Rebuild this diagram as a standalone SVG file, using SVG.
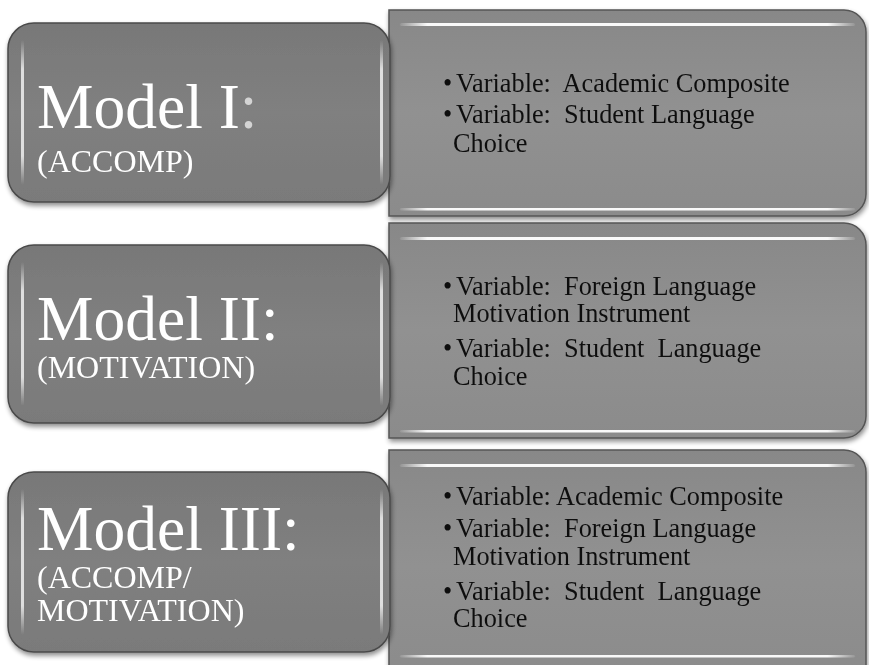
<svg xmlns="http://www.w3.org/2000/svg" width="869" height="665" viewBox="0 0 869 665">
<defs>
  <filter id="sh" x="-5%" y="-5%" width="112%" height="115%">
    <feGaussianBlur in="SourceAlpha" stdDeviation="2.5"/>
    <feOffset dx="1" dy="3" result="b"/>
    <feComponentTransfer><feFuncA type="linear" slope="0.45"/></feComponentTransfer>
    <feMerge><feMergeNode/><feMergeNode in="SourceGraphic"/></feMerge>
  </filter>
  <linearGradient id="vHi" x1="0" y1="0" x2="0" y2="1">
    <stop offset="0" stop-color="#ffffff" stop-opacity="0"/>
    <stop offset="0.2" stop-color="#ffffff" stop-opacity="0.75"/>
    <stop offset="0.8" stop-color="#ffffff" stop-opacity="0.75"/>
    <stop offset="1" stop-color="#ffffff" stop-opacity="0"/>
  </linearGradient>
  <linearGradient id="hiR" x1="0" y1="0" x2="1" y2="0">
    <stop offset="0" stop-color="#ffffff" stop-opacity="0.1"/>
    <stop offset="0.06" stop-color="#ffffff" stop-opacity="0.95"/>
    <stop offset="0.94" stop-color="#ffffff" stop-opacity="0.95"/>
    <stop offset="1" stop-color="#ffffff" stop-opacity="0.1"/>
  </linearGradient>
  <linearGradient id="fillL" x1="0" y1="0" x2="0" y2="1">
    <stop offset="0" stop-color="#787878"/>
    <stop offset="0.5" stop-color="#808080"/>
    <stop offset="1" stop-color="#7a7a7a"/>
  </linearGradient>
  <linearGradient id="fillR" x1="0" y1="0" x2="0" y2="1">
    <stop offset="0" stop-color="#888888"/>
    <stop offset="0.5" stop-color="#919191"/>
    <stop offset="1" stop-color="#8b8b8b"/>
  </linearGradient>
</defs>
<style>
  .lbox { fill: url(#fillL); stroke: #4a4a4a; stroke-width: 1.5; }
  .lbev { fill: url(#vHi); }
  .rbox { fill: url(#fillR); stroke: #555555; stroke-width: 1.5; }
  .rhi { fill: url(#hiR); }
  .title { font-family: 'Liberation Serif', 'Times New Roman', 'DejaVu Serif', serif; font-size: 63.5px; fill: #ffffff; }
  .colon { fill: #d4d4d4; }
  .sub { font-family: 'Liberation Serif', 'Times New Roman', 'DejaVu Serif', serif; font-size: 32px; fill: #ffffff; }
  .item { font-family: 'Liberation Serif', 'Times New Roman', 'DejaVu Serif', serif; font-size: 26.3px; fill: #111111; }
</style>
<rect width="869" height="665" fill="#ffffff"/>

<g id="detail1" filter="url(#sh)">
  <path class="rbox" d="M389,10 H844 A22,22 0 0 1 866,32 V194 A22,22 0 0 1 844,216 H389 Z"/>
  <rect class="rhi" x="400" y="23" width="455" height="3" rx="1.5"/>
  <rect class="rhi" x="400" y="208" width="455" height="2.5" rx="1.2"/>
  <text class="item" xml:space="preserve"><tspan x="443" y="92">•</tspan><tspan x="456" y="92">Variable:  Academic Composite</tspan><tspan x="443" y="123">•</tspan><tspan x="456" y="123">Variable:  Student Language</tspan><tspan x="453" y="152">Choice</tspan></text>
</g>

<g id="detail2" filter="url(#sh)">
  <path class="rbox" d="M389,223 H844 A22,22 0 0 1 866,245 V416 A22,22 0 0 1 844,438 H389 Z"/>
  <rect class="rhi" x="400" y="237" width="455" height="3" rx="1.5"/>
  <rect class="rhi" x="400" y="430" width="455" height="2.5" rx="1.2"/>
  <text class="item" xml:space="preserve"><tspan x="443" y="295">•</tspan><tspan x="456" y="295">Variable:  Foreign Language</tspan><tspan x="453" y="322">Motivation Instrument</tspan><tspan x="443" y="357">•</tspan><tspan x="456" y="357">Variable:  Student  Language</tspan><tspan x="453" y="385">Choice</tspan></text>
</g>

<g id="detail3" filter="url(#sh)">
  <path class="rbox" d="M389,450 H844 A22,22 0 0 1 866,472 V680 H389 Z"/>
  <rect class="rhi" x="400" y="464" width="455" height="3" rx="1.5"/>
  <rect class="rhi" x="400" y="655" width="455" height="2.5" rx="1.2"/>
  <text class="item" xml:space="preserve"><tspan x="443" y="505">•</tspan><tspan x="456" y="505">Variable: Academic Composite</tspan><tspan x="443" y="537">•</tspan><tspan x="456" y="537">Variable:  Foreign Language</tspan><tspan x="453" y="565">Motivation Instrument</tspan><tspan x="443" y="600">•</tspan><tspan x="456" y="600">Variable:  Student  Language</tspan><tspan x="453" y="627">Choice</tspan></text>
</g>

<g id="model1" filter="url(#sh)">
  <rect class="lbox" x="8" y="23" width="382" height="179" rx="26" ry="26"/>
  <rect class="lbev" x="21" y="40" width="3" height="145" rx="1.5"/>
  <rect class="lbev" x="380" y="40" width="3" height="145" rx="1.5"/>
  <text class="title" x="37" y="128">Model I<tspan class="colon">:</tspan></text>
  <text class="sub" x="37" y="172">(ACCOMP)</text>
</g>

<g id="model2" filter="url(#sh)">
  <rect class="lbox" x="8" y="245" width="382" height="178" rx="26" ry="26"/>
  <rect class="lbev" x="21" y="262" width="3" height="144" rx="1.5"/>
  <rect class="lbev" x="380" y="262" width="3" height="144" rx="1.5"/>
  <text class="title" x="37" y="340">Model II:</text>
  <text class="sub" x="37" y="378">(MOTIVATION)</text>
</g>

<g id="model3" filter="url(#sh)">
  <rect class="lbox" x="8" y="472" width="382" height="180" rx="26" ry="26"/>
  <rect class="lbev" x="21" y="489" width="3" height="146" rx="1.5"/>
  <rect class="lbev" x="380" y="489" width="3" height="146" rx="1.5"/>
  <text class="title" x="37" y="550">Model III:</text>
  <text class="sub" x="37" y="588">(ACCOMP/</text>
  <text class="sub" x="37" y="621">MOTIVATION)</text>
</g>

<g id="connectors"></g>
</svg>
